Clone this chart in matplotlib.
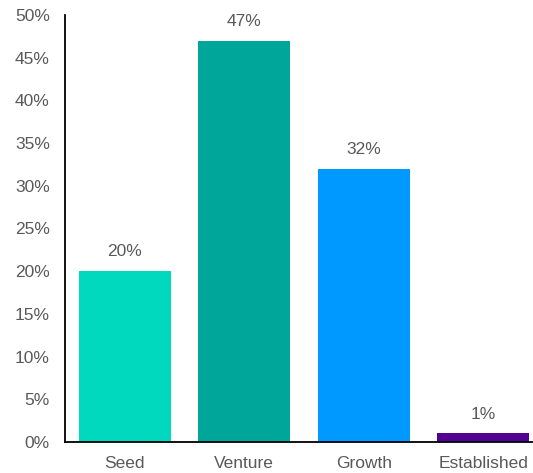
import matplotlib
matplotlib.use("Agg")
import matplotlib.pyplot as plt
from matplotlib.ticker import FuncFormatter, MultipleLocator

categories = ["Seed", "Venture", "Growth", "Established"]
shares = [20, 47, 32, 1]
bar_colors = ["#00d9be", "#00a69a", "#0099ff", "#520092"]

plt.rcParams["font.family"] = ["Liberation Sans", "DejaVu Sans"]
TEXT = "#595959"
FS = 12.5

fig = plt.figure(figsize=(5.33, 4.73), dpi=100)
ax = fig.add_axes([0.122, 0.0655, 0.897, 0.903])

x = range(len(categories))
bars = ax.bar(x, shares, width=0.77, color=bar_colors)

for rect, val in zip(bars, shares):
    ax.annotate(f"{val}%", (rect.get_x() + rect.get_width() / 2, val),
                xytext=(0, 14), textcoords="offset points",
                ha="center", va="center", fontsize=FS, color=TEXT)

ax.set_xlim(-0.5, 3.5)
ax.set_ylim(0, 50)
ax.yaxis.set_major_locator(MultipleLocator(5))
ax.yaxis.set_major_formatter(FuncFormatter(lambda v, _: f"{v:.0f}%"))
ax.set_xticks(list(x))
ax.set_xticklabels(categories)
ax.tick_params(axis="y", length=0, pad=11, labelsize=FS, labelcolor=TEXT)
ax.tick_params(axis="x", length=0, pad=10, labelsize=FS, labelcolor=TEXT)

for side in ("top", "right"):
    ax.spines[side].set_visible(False)
for side in ("left", "bottom"):
    ax.spines[side].set_color("#000000")
    ax.spines[side].set_linewidth(1.3)

fig.savefig("out.png", dpi=100)
